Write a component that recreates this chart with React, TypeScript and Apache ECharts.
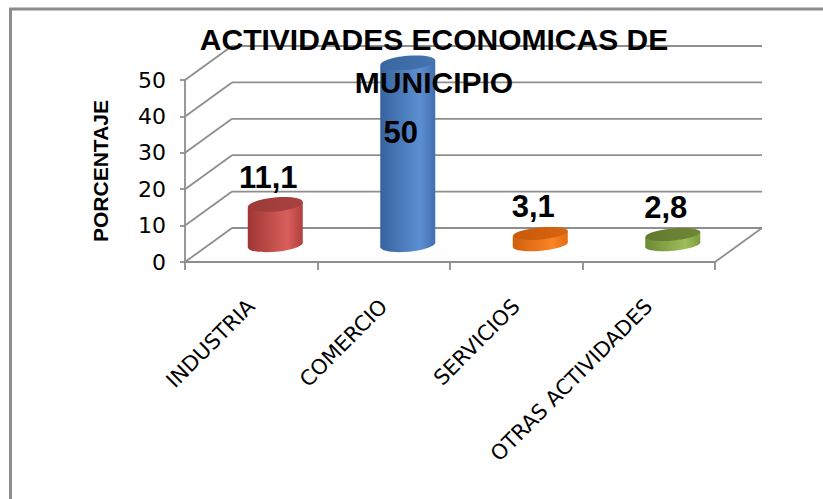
import React, { useEffect, useRef } from "react";
import * as echarts from "echarts";

const categories = ["INDUSTRIA", "COMERCIO", "SERVICIOS", "OTRAS ACTIVIDADES"];
const values = [11.1, 50, 3.1, 2.8];
const yTicks = [0, 10, 20, 30, 40, 50];
const titleText = "ACTIVIDADES ECONOMICAS DE\nMUNICIPIO";
const yName = "PORCENTAJE";

// styles (not data)
const palette = [
  { dark: "#9E3633", light: "#D95F5B", edge: "#B0403D", top: "#9C3B39", topL: "#A8423F" },
  { dark: "#3763A0", light: "#5C8FD2", edge: "#416FAE", top: "#3A67A2", topL: "#4674B0" },
  { dark: "#D2600A", light: "#FA8426", edge: "#E26C12", top: "#C85A0B", topL: "#D8650F" },
  { dark: "#6E8A35", light: "#9DBE5A", edge: "#7E9C40", top: "#62792E", topL: "#6E8836" },
];
const GRID = "#8E8E8E";
const DEPTH_X = 47;
const DEPTH_Y = -34;

export default function App() {
  const ref = useRef<HTMLDivElement>(null);
  useEffect(() => {
    document.body.style.margin = "0";
    const chart = echarts.init(ref.current!, null, { renderer: "svg" });

    const frameRender = (params: any, api: any) => {
      const v = api.value(0);
      const bw = api.size([1, 0])[0];
      const p0 = api.coord([0, v]);
      const p3 = api.coord([categories.length - 1, v]);
      const lx = p0[0] - bw / 2;
      const rx = p3[0] + bw / 2;
      const y = p0[1];
      const children: any[] = [
        {
          type: "line",
          shape: { x1: lx, y1: y, x2: lx + DEPTH_X, y2: y + DEPTH_Y },
          style: { stroke: GRID, lineWidth: 1.8 },
        },
        {
          type: "line",
          shape: { x1: lx + DEPTH_X, y1: y + DEPTH_Y, x2: rx + DEPTH_X, y2: y + DEPTH_Y },
          style: { stroke: GRID, lineWidth: 1.8 },
        },
      ];
      if (v === 0) {
        children.push({
          type: "line",
          shape: { x1: rx, y1: y, x2: rx + DEPTH_X, y2: y + DEPTH_Y },
          style: { stroke: GRID, lineWidth: 1.8 },
        });
      }
      return { type: "group", children };
    };

    const cylRender = (params: any, api: any) => {
      const i = api.value(0);
      const v = api.value(1);
      const base = api.coord([i, 0]);
      const top = api.coord([i, v]);
      const cx = base[0] + 24;
      const by = base[1] - 17;
      const ty = top[1] - 17;
      const w = 55;
      const hw = w / 2;
      const ry = v < 5 ? 6 : 7;
      const dt = 2.5;
      const rot = Math.atan2(dt, hw);
      const c = palette[i];
      const bodyGrad = new echarts.graphic.LinearGradient(0, 0, 1, 0, [
        { offset: 0, color: c.dark },
        { offset: 0.72, color: c.light },
        { offset: 1, color: c.edge },
      ]);
      const topGrad = new echarts.graphic.LinearGradient(0, 0, 1, 0, [
        { offset: 0, color: c.top },
        { offset: 1, color: c.topL },
      ]);
      const children: any[] = [
        {
          type: "ellipse",
          shape: { cx, cy: by, rx: hw, ry },
          rotation: rot,
          originX: cx,
          originY: by,
          style: { fill: bodyGrad },
        },
        {
          type: "polygon",
          shape: {
            points: [
              [cx - hw, ty + dt],
              [cx + hw, ty - dt],
              [cx + hw, by - dt],
              [cx - hw, by + dt],
            ],
          },
          style: { fill: bodyGrad },
        },
        {
          type: "ellipse",
          shape: { cx, cy: ty, rx: hw, ry },
          rotation: rot,
          originX: cx,
          originY: ty,
          style: { fill: topGrad },
        },
      ];
      let ly = ty - 27;
      if (ly < 110) ly = ty + 69;
      children.push({
        type: "text",
        style: {
          text: String(v).replace(".", ","),
          x: cx - 7,
          y: ly,
          fill: "#000",
          font: 'bold 31px "Liberation Sans", Arial, sans-serif',
          align: "center",
          verticalAlign: "middle",
        },
        z2: 10,
      });
      return { type: "group", children };
    };

    chart.setOption({
      animation: false,
      backgroundColor: "#fff",
      title: {
        text: titleText,
        left: 429,
        top: 13,
        textAlign: "center",
        textStyle: {
          fontFamily: '"Liberation Sans", Arial, sans-serif',
          fontWeight: "bold",
          fontSize: 30,
          lineHeight: 43,
          color: "#000",
        },
      },
      graphic: [
        {
          type: "rect",
          shape: { x: 10.5, y: 9, width: 900, height: 700 },
          style: { fill: "none", stroke: "#8C8C8C", lineWidth: 3 },
          silent: true,
        },
      ],
      grid: { left: 185, right: 108, top: 80, bottom: 237 },
      xAxis: {
        type: "category",
        data: categories,
        boundaryGap: true,
        axisLine: { show: true, lineStyle: { color: GRID, width: 1.8 } },
        axisTick: { show: true, length: 8, lineStyle: { color: GRID, width: 1.8 } },
        axisLabel: {
          rotate: 45,
          margin: 41,
          interval: 0,
          color: "#000",
          fontSize: 21,
          fontFamily: '"DejaVu Sans", sans-serif',
        },
      },
      yAxis: {
        type: "value",
        min: 0,
        max: 50,
        interval: 10,
        name: yName,
        nameLocation: "middle",
        nameGap: 74,
        nameRotate: 90,
        nameTextStyle: {
          fontFamily: '"Liberation Sans", Arial, sans-serif',
          fontWeight: "bold",
          fontSize: 21,
          color: "#000",
        },
        axisLine: { show: true, lineStyle: { color: GRID, width: 1.8 } },
        axisTick: { show: true, length: 5, lineStyle: { color: GRID, width: 1.8 } },
        splitLine: { show: false },
        axisLabel: {
          margin: 19,
          color: "#000",
          fontSize: 22,
          fontFamily: '"DejaVu Sans", sans-serif',
        },
      },
      series: [
        {
          type: "custom",
          name: "frame",
          data: yTicks.map((t) => [t]),
          encode: { y: 0 },
          renderItem: frameRender,
          silent: true,
          z: 1,
        },
        {
          type: "custom",
          name: "values",
          data: values.map((v, i) => [i, v]),
          encode: { x: 0, y: 1 },
          renderItem: cylRender,
          z: 3,
        },
      ],
    });
    return () => chart.dispose();
  }, []);
  return <div ref={ref} style={{ width: 823, height: 499 }} />;
}
